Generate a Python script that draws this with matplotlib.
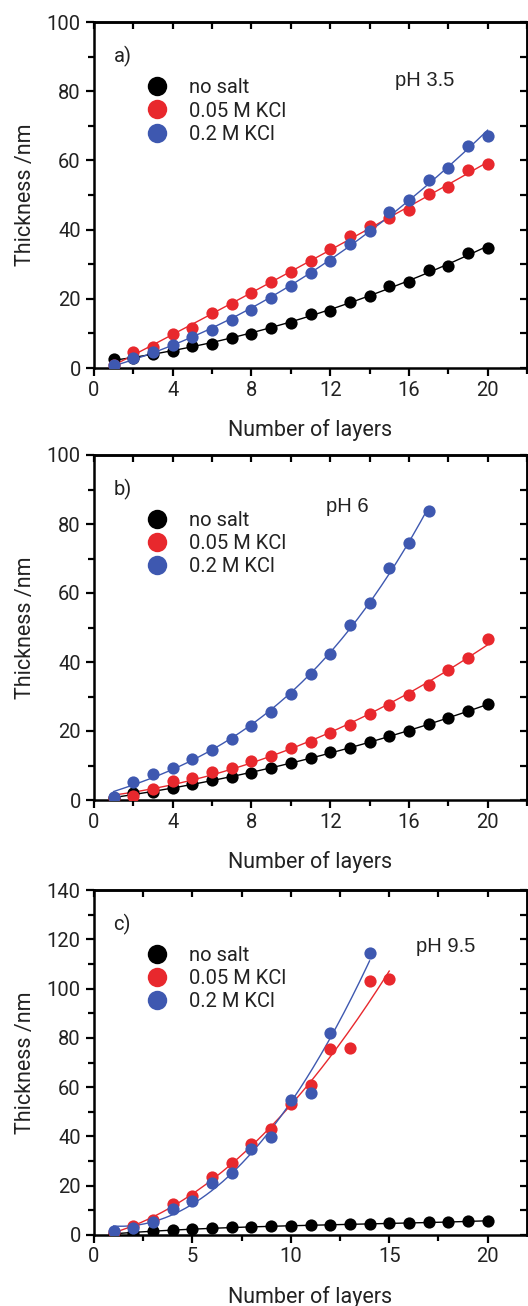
import numpy as np
import matplotlib
matplotlib.use("Agg")
import matplotlib.pyplot as plt
from matplotlib.ticker import MultipleLocator
from matplotlib.lines import Line2D

plt.rcParams['font.family'] = ['Roboto', 'DejaVu Sans']

# ---------------- data ----------------
layers20 = np.arange(1, 21)

# panel a, pH 3.5
a_nosalt = [2.6, 2.9, 4.1, 4.8, 6.4, 7.0, 8.8, 9.8, 11.7, 13.0, 15.5, 16.6, 19.2, 20.7, 23.7, 25.0, 28.2, 29.5, 33.2, 34.6]
a_005 = [1.0, 4.6, 6.0, 9.8, 11.7, 15.9, 18.6, 21.6, 24.8, 27.7, 31.0, 34.3, 38.2, 41.1, 43.3, 45.7, 50.2, 52.2, 57.2, 59.1]
a_02 = [0.8, 2.9, 4.5, 6.7, 9.1, 11.1, 13.9, 16.8, 20.2, 23.6, 27.4, 31.0, 35.8, 39.6, 45.0, 48.6, 54.3, 57.7, 64.1, 67.1]

# panel b, pH 6
b_nosalt = [0.5, 1.9, 2.2, 3.6, 4.6, 5.8, 6.8, 7.9, 9.2, 10.8, 12.1, 13.8, 15.0, 16.7, 18.5, 20.0, 21.9, 23.9, 25.8, 27.7]
b_005 = [0.7, 1.2, 3.1, 5.6, 6.5, 8.2, 9.2, 11.3, 12.8, 15.0, 16.7, 19.5, 21.7, 24.9, 27.5, 30.4, 33.3, 37.7, 41.1, 46.6]
b_02_x = np.arange(1, 18)
b_02 = [1.0, 5.3, 7.5, 9.4, 11.8, 14.5, 17.6, 21.4, 25.6, 30.6, 36.5, 42.3, 50.7, 57.0, 67.3, 74.6, 83.9]

# panel c, pH 9.5
c_nosalt = [0.5, 1.0, 1.6, 2.0, 2.4, 2.7, 3.1, 3.1, 3.7, 3.7, 3.9, 4.1, 4.3, 4.5, 4.9, 4.7, 5.1, 5.1, 5.7, 5.7]
c_005_x = np.arange(1, 16)
c_005 = [1.4, 3.7, 6.1, 12.6, 15.8, 23.4, 29.1, 36.9, 43.0, 53.0, 60.9, 75.4, 76.0, 103.1, 103.9]
c_02_x = [1, 2, 3, 4, 5, 6, 7, 8, 9, 10, 11, 12, 14]
c_02 = [1.8, 2.7, 5.4, 10.6, 13.9, 21.0, 25.3, 34.9, 39.9, 54.8, 57.5, 82.1, 114.3]

series_labels = ['no salt', '0.05 M KCl', '0.2 M KCl']
panel_letters = ['a)', 'b)', 'c)']
ph_labels = ['pH 3.5', 'pH 6', 'pH 9.5']

BLACK = '#000000'
RED = '#e8282d'
BLUE = '#3e58b0'
TXT = '#222222'

W, H = 528, 1306
fig = plt.figure(figsize=(W / 100, H / 100), dpi=100)

def ax_rect(top_px, bot_px, left_px=94, right_px=527):
    return [left_px / W, 1 - bot_px / H, (right_px - left_px) / W, (bot_px - top_px) / H]

axes = [fig.add_axes(ax_rect(22, 368)),
        fig.add_axes(ax_rect(455, 800)),
        fig.add_axes(ax_rect(890, 1235))]

# (x, y, colour, polynomial degree of the smooth guide line)
panels = [
    [(layers20, a_nosalt, BLACK, 2), (layers20, a_005, RED, 2), (layers20, a_02, BLUE, 2)],
    [(layers20, b_nosalt, BLACK, 2), (layers20, b_005, RED, 2), (b_02_x, b_02, BLUE, 3)],
    [(layers20, c_nosalt, BLACK, 3), (c_005_x, c_005, RED, 2), (c_02_x, c_02, BLUE, 2)],
]
ylims = [100, 100, 140]
xmaj = [4, 4, 5]
xmin_ = [2, 2, 2.5]
ph_pos = [(0.695, 0.832), (0.536, 0.852), (0.744, 0.836)]

for i, ax in enumerate(axes):
    for x, y, col, deg in panels[i]:
        x = np.asarray(x, float)
        y = np.asarray(y, float)
        coef = np.polyfit(x, y, deg)
        xf = np.linspace(x.min(), x.max(), 200)
        ax.plot(xf, np.polyval(coef, xf), color=col, lw=1.0, zorder=2)
        ax.plot(x, y, 'o', color=col, ms=8.8, mec='none', zorder=3)

    ax.set_xlim(0, 22)
    ax.set_ylim(0, ylims[i])
    ax.xaxis.set_major_locator(MultipleLocator(xmaj[i]))
    ax.xaxis.set_minor_locator(MultipleLocator(xmin_[i]))
    ax.yaxis.set_major_locator(MultipleLocator(20))
    ax.yaxis.set_minor_locator(MultipleLocator(10))
    for s in ax.spines.values():
        s.set_linewidth(1.8)
    ax.tick_params(axis='both', which='both', direction='out', width=1.6,
                   labelsize=14.5, labelcolor=TXT, colors='black')
    ax.tick_params(which='major', length=6)
    ax.tick_params(which='minor', length=4)
    ax.tick_params(axis='x', pad=3)
    # inward ticks on top and right
    axt = ax.secondary_xaxis('top')
    axt.xaxis.set_major_locator(MultipleLocator(xmaj[i]))
    axt.xaxis.set_minor_locator(MultipleLocator(xmin_[i]))
    axt.tick_params(which='both', direction='in', width=1.6, labeltop=False, length=5)
    axt.spines['top'].set_linewidth(1.8)
    axr = ax.secondary_yaxis('right')
    axr.yaxis.set_major_locator(MultipleLocator(20))
    axr.yaxis.set_minor_locator(MultipleLocator(10))
    axr.tick_params(which='both', direction='in', width=1.6, labelright=False, length=5)
    axr.spines['right'].set_linewidth(1.8)

    ax.set_ylabel('Thickness /nm', fontsize=15.5, color=TXT, labelpad=8)
    ax.set_xlabel('Number of layers', fontsize=15.5, color=TXT, labelpad=14)

    ax.text(0.045, 0.9, panel_letters[i], transform=ax.transAxes, fontsize=14.5,
            color=TXT, ha='left', va='center')
    ax.text(ph_pos[i][0], ph_pos[i][1], ph_labels[i], transform=ax.transAxes, fontsize=14.5,
            color=TXT, ha='left', va='center', family=['Liberation Sans', 'DejaVu Sans'])

    handles = [Line2D([], [], ls='none', marker='o', ms=14, mec='none', color=c)
               for c in (BLACK, RED, BLUE)]
    ax.legend(handles, series_labels, loc='upper left', bbox_to_anchor=(0.08, 0.86),
              frameon=False, fontsize=14.5, handletextpad=0.6, labelspacing=0.2,
              borderaxespad=0, labelcolor=TXT)

fig.savefig('out.png', dpi=100)
